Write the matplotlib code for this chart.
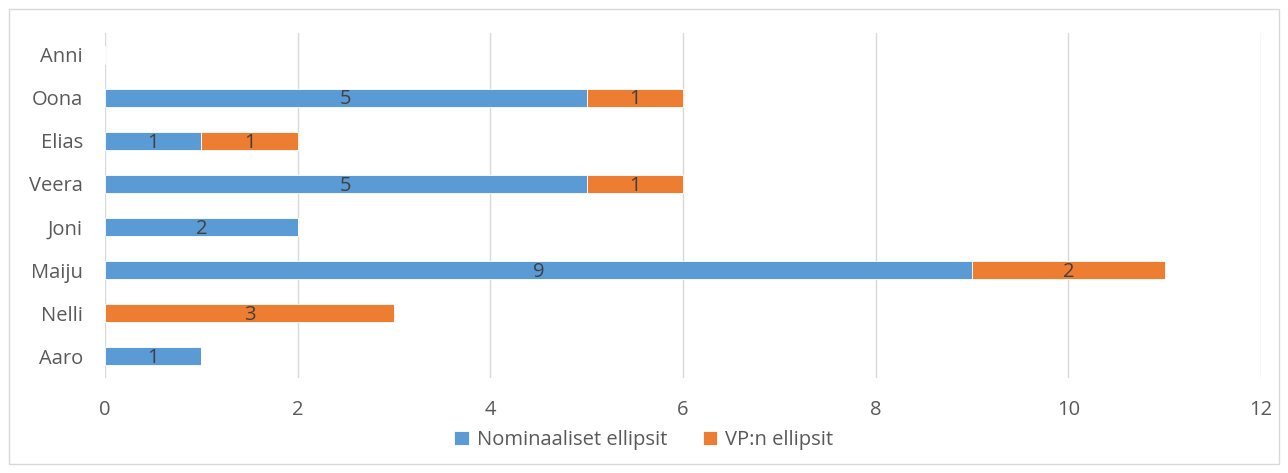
import matplotlib
matplotlib.use("Agg")
import matplotlib.pyplot as plt
from matplotlib.patches import Rectangle

names = ["Aaro", "Nelli", "Maiju", "Joni", "Veera", "Elias", "Oona", "Anni"]
nominal = [1, 0, 9, 2, 5, 1, 5, 0]
vp = [0, 3, 2, 0, 1, 1, 1, 0]
series_labels = ["Nominaaliset ellipsit", "VP:n ellipsit"]
xticks = [0, 2, 4, 6, 8, 10, 12]

plt.rcParams['font.family'] = ['Open Sans', 'DejaVu Sans']
blue = "#5B9BD5"
orange = "#ED7D31"
gray = "#595959"
fs = 14.5

fig = plt.figure(figsize=(12.88, 4.73), dpi=100)
ax = fig.add_axes([105/1288, 1-378/473, (1261-105)/1288, (378-33)/473])

y = list(range(len(names)))
h = 0.42
b1 = ax.barh(y, nominal, height=h, color=blue, edgecolor="white", linewidth=0.6, label=series_labels[0], zorder=3)
b2 = ax.barh(y, vp, left=nominal, height=h, color=orange, edgecolor="white", linewidth=0.6, label=series_labels[1], zorder=3)

for rects, vals in ((b1, nominal), (b2, vp)):
    for r, v in zip(rects, vals):
        if v:
            ax.text(r.get_x() + r.get_width()/2, r.get_y() + r.get_height()/2 - 0.04, str(v),
                    ha="center", va="center", fontsize=fs, color="#404040", zorder=4)

ax.set_xlim(0, 12)
ax.set_ylim(-0.5, len(names) - 0.5)
ax.set_xticks(xticks)
ax.set_xticklabels([str(t) for t in xticks])
ax.set_yticks(y)
ax.set_yticklabels(names)
ax.tick_params(axis="both", length=0, labelsize=fs, colors=gray)
ax.tick_params(axis="x", pad=16)
ax.tick_params(axis="y", pad=16)
ax.grid(axis="x", color="#D9D9D9", linewidth=1, zorder=0)
for s in ax.spines.values():
    s.set_visible(False)

leg = fig.legend(handles=[b1, b2], labels=series_labels, loc="center", bbox_to_anchor=(0.5, 1-440/473),
                 ncol=2, frameon=False, fontsize=fs, handlelength=0.7, handleheight=0.7,
                 handletextpad=0.4, columnspacing=1.8, labelcolor=gray)

fig.patches.append(Rectangle((9/1288, 9/473), (1279-9)/1288, (464-9)/473, transform=fig.transFigure,
                             fill=False, edgecolor="#D9D9D9", linewidth=1))

fig.savefig("out.png", dpi=100)
